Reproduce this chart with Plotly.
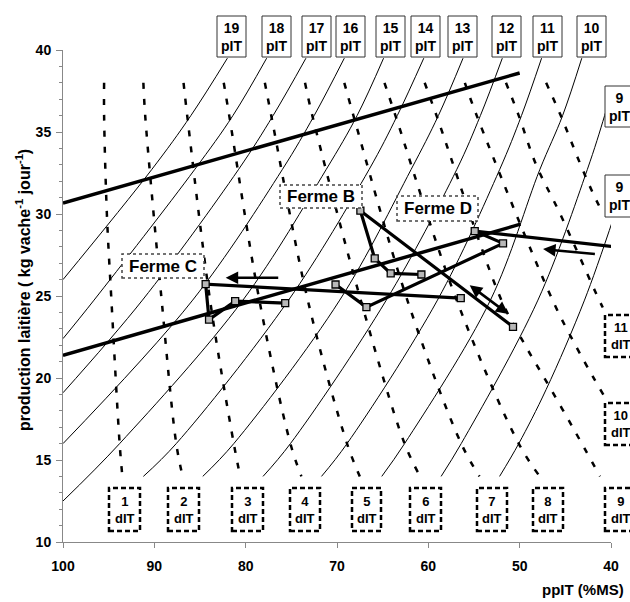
import plotly.graph_objects as go

# ---------------- data ----------------
# pIT isolines (solid thin curves)
pit_labels = ["19", "18", "17", "16", "15", "14", "13", "12", "11", "10", "9", "9"]
pit_x = [
    [82.0, 86.0, 90.3, 100.0],
    [77.7, 81.4, 85.6, 96.6, 100.0],
    [73.4, 77.0, 80.8, 91.3, 100.0],
    [69.2, 72.5, 76.0, 85.8, 100.0],
    [64.9, 67.8, 71.2, 80.3, 93.8, 100.0],
    [60.5, 63.4, 66.5, 75.3, 87.6, 91.2],
    [56.2, 58.9, 61.9, 69.7, 81.3, 84.7],
    [51.9, 54.3, 56.9, 64.6, 75.1, 78.1],
    [47.6, 49.8, 52.2, 59.0, 68.9, 71.7],
    [43.2, 45.3, 47.8, 53.2, 62.6, 65.1],
    [39.6, 40.7, 42.6, 48.0, 56.4, 58.6],
    [39.7, 42.9, 47.1, 50.1, 52.2],
]
pit_y = [
    [39.5, 36.0, 32.7, 26.0],
    [39.5, 36.0, 32.7, 24.75, 22.4],
    [39.5, 36.0, 32.7, 24.75, 19.1],
    [39.5, 36.0, 32.7, 24.75, 16.0],
    [39.5, 36.0, 32.7, 24.75, 16.0, 12.5],
    [39.5, 36.0, 32.7, 24.75, 16.0, 14.0],
    [39.5, 36.0, 32.7, 24.75, 16.0, 14.0],
    [39.5, 36.0, 32.7, 24.75, 16.0, 14.0],
    [39.5, 36.0, 32.7, 24.75, 16.0, 14.0],
    [39.5, 36.0, 32.7, 24.75, 16.0, 14.0],
    [38.2, 36.0, 32.7, 24.75, 16.0, 14.0],
    [29.8, 24.75, 19.3, 16.0, 14.0],
]

# dIT isolines (dashed curves)
dit_labels = ["1", "2", "3", "4", "5", "6", "7", "8", "9", "10", "11"]
dit_x = [
    [95.5, 95.5, 95.2, 94.7, 93.8, 93.5],
    [91.2, 91.0, 89.2, 87.6, 86.9],
    [86.8, 86.4, 83.9, 81.3, 80.6],
    [82.4, 81.8, 78.5, 75.1, 73.9],
    [77.9, 77.2, 73.2, 68.9, 67.5],
    [73.5, 72.7, 67.4, 62.6, 60.9],
    [69.2, 68.2, 62.3, 56.4, 54.4],
    [64.8, 63.6, 56.9, 50.1, 47.8],
    [60.4, 59.1, 52.0, 49.3, 47.4, 44.2, 41.2],
    [56.0, 54.7, 46.4, 43.8, 42.0, 40.7],
    [51.5, 50.1, 48.2, 45.6, 41.3, 40.9],
    [47.1, 45.5, 43.4, 42.0, 40.9],
]
dit_y = [
    [38.0, 36.0, 30.05, 24.75, 16.0, 14.0],
    [38.0, 36.0, 24.75, 16.0, 14.0],
    [38.0, 36.0, 24.75, 16.0, 14.0],
    [38.0, 36.0, 24.75, 16.0, 14.0],
    [38.0, 36.0, 24.75, 16.0, 14.0],
    [38.0, 36.0, 24.75, 16.0, 14.0],
    [38.0, 36.0, 24.75, 16.0, 14.0],
    [38.0, 36.0, 24.75, 16.0, 14.0],
    [38.0, 36.0, 24.75, 21.9, 20.1, 17.0, 14.0],
    [38.0, 36.0, 24.75, 21.9, 20.1, 18.85],
    [38.0, 36.0, 33.0, 30.05, 24.75, 24.3],
    [38.0, 36.0, 33.1, 31.3, 30.05],
]

# thick reference lines
upper_x = [100.0, 50.0]
upper_y = [30.67, 38.6]
lower_x = [100.0, 49.9]
lower_y = [21.39, 29.38]

# farms
fermeB_x = [60.76, 64.12, 65.87, 67.44, 50.73]
fermeB_y = [26.31, 26.38, 27.29, 30.20, 23.12]
fermeC_x = [75.67, 81.15, 84.01, 84.38, 56.45]
fermeC_y = [24.56, 24.69, 23.56, 25.72, 24.87]
fermeD_x = [70.16, 66.78, 51.82, 54.92, 39.6]
fermeD_y = [25.70, 24.32, 28.21, 28.96, 28.0]

# arrows (tail -> head)
arrows = [
    dict(tail=(76.27, 26.11), head=(82.19, 26.11), both=False),
    dict(tail=(41.60, 27.55), head=(47.44, 27.86), both=False),
    dict(tail=(51.07, 23.83), head=(55.47, 25.66), both=True),
]

# ---------------- layout geometry ----------------
W, H = 630, 602
ML, MR, MT, MB = 63, 19, 50, 60
PW = W - ML - MR
PH = H - MT - MB


def pxx(x):
    return (x - ML) / PW


def pxy(y):
    return (H - MB - y) / PH


FONT = "Arial, 'Liberation Sans', Helvetica, sans-serif"

fig = go.Figure()

for xs, ys in zip(pit_x, pit_y):
    fig.add_trace(go.Scatter(x=xs, y=ys, mode="lines",
                             line=dict(color="black", width=1, shape="spline"),
                             hoverinfo="skip", showlegend=False))

for xs, ys in zip(dit_x, dit_y):
    fig.add_trace(go.Scatter(x=xs, y=ys, mode="lines",
                             line=dict(color="black", width=2.5, dash="6px,10px", shape="spline"),
                             hoverinfo="skip", showlegend=False))

for xs, ys in [(upper_x, upper_y), (lower_x, lower_y)]:
    fig.add_trace(go.Scatter(x=xs, y=ys, mode="lines",
                             line=dict(color="black", width=3.5),
                             hoverinfo="skip", showlegend=False))

for xs, ys, nm in [(fermeB_x, fermeB_y, 5), (fermeC_x, fermeC_y, 5), (fermeD_x, fermeD_y, 4)]:
    fig.add_trace(go.Scatter(x=xs, y=ys, mode="lines",
                             line=dict(color="black", width=3.2),
                             hoverinfo="skip", showlegend=False))
    fig.add_trace(go.Scatter(x=xs[:nm], y=ys[:nm], mode="markers",
                             marker=dict(symbol="square", size=7, color="#b8b8b8",
                                         line=dict(color="black", width=1.3)),
                             hoverinfo="skip", showlegend=False))

annotations = []
shapes = []

for a in arrows:
    annotations.append(dict(x=a["head"][0], y=a["head"][1], ax=a["tail"][0], ay=a["tail"][1],
                            xref="x", yref="y", axref="x", ayref="y", text="",
                            showarrow=True, arrowhead=2, arrowsize=1, arrowwidth=2.5,
                            arrowcolor="black", arrowside="end+start" if a["both"] else "end"))

# label boxes, pixel geometry
pit_boxes = [(217, 246), (262, 291), (302, 331), (336, 365), (376, 405),
             (411, 440), (448, 477), (492, 521), (533, 562), (577, 606)]
for (x0, x1), lab in zip(pit_boxes, pit_labels[:10]):
    shapes.append(dict(type="rect", xref="paper", yref="paper", x0=pxx(x0), x1=pxx(x1),
                       y0=pxy(57), y1=pxy(16), line=dict(color="#333", width=1),
                       fillcolor="white", layer="above"))
    annotations.append(dict(x=pxx((x0 + x1) / 2), y=pxy(37), xref="paper", yref="paper",
                            text=f"{lab}<br>pIT", showarrow=False, xanchor="center", yanchor="middle",
                            font=dict(family=FONT, size=14, color="black", weight="bold")))
for (y0, y1), lab in zip([(86, 127), (175, 217)], pit_labels[10:]):
    shapes.append(dict(type="rect", xref="paper", yref="paper", x0=pxx(605), x1=pxx(634),
                       y0=pxy(y1), y1=pxy(y0), line=dict(color="#333", width=1),
                       fillcolor="white", layer="above"))
    annotations.append(dict(x=pxx(619.5), y=pxy((y0 + y1) / 2), xref="paper", yref="paper",
                            text=f"{lab}<br>pIT", showarrow=False, xanchor="center", yanchor="middle",
                            font=dict(family=FONT, size=14, color="black", weight="bold")))

dit_boxes = [(109, 140, 488, 531), (168, 199, 488, 531), (232, 263, 488, 531),
             (290, 320, 488, 531), (352, 381, 488, 531), (410, 441, 488, 531),
             (477, 507, 488, 531), (533, 563, 488, 531), (605, 636, 488, 531),
             (605, 636, 403, 445), (605, 636, 315, 357)]
for (x0, x1, y0, y1), lab in zip(dit_boxes, dit_labels):
    shapes.append(dict(type="rect", xref="paper", yref="paper", x0=pxx(x0), x1=pxx(x1),
                       y0=pxy(y1), y1=pxy(y0), line=dict(color="black", width=2.5, dash="5px,3px"),
                       fillcolor="white", layer="above"))
    annotations.append(dict(x=pxx((x0 + x1) / 2), y=pxy((y0 + y1) / 2), xref="paper", yref="paper",
                            text=f"{lab}<br>dIT", showarrow=False, xanchor="center", yanchor="middle",
                            font=dict(family=FONT, size=13, color="black", weight="bold")))

ferme_boxes = [("Ferme B", 280, 362, 185, 208), ("Ferme D", 397, 478, 196, 221),
               ("Ferme C", 122, 204, 254, 278)]
for lab, x0, x1, y0, y1 in ferme_boxes:
    shapes.append(dict(type="rect", xref="paper", yref="paper", x0=pxx(x0), x1=pxx(x1),
                       y0=pxy(y1), y1=pxy(y0), line=dict(color="#444", width=1.5, dash="dot"),
                       fillcolor="white", layer="above"))
    annotations.append(dict(x=pxx((x0 + x1) / 2), y=pxy((y0 + y1) / 2), xref="paper", yref="paper",
                            text=lab, showarrow=False, xanchor="center", yanchor="middle",
                            font=dict(family=FONT, size=17, color="black", weight="bold")))

# axis titles
annotations.append(dict(x=pxx(626), y=pxy(589), xref="paper", yref="paper", text="ppIT (%MS)",
                        showarrow=False, xanchor="right", yanchor="middle",
                        font=dict(family=FONT, size=15, color="black", weight="bold")))
annotations.append(dict(x=pxx(23), y=pxy(290), xref="paper", yref="paper",
                        text="production laitière ( kg vache<sup>-1</sup> jour<sup>-1</sup>)",
                        showarrow=False, textangle=-90, xanchor="center", yanchor="middle",
                        font=dict(family=FONT, size=16, color="black", weight="bold")))

fig.update_layout(
    width=W, height=H,
    margin=dict(l=ML, r=MR, t=MT, b=MB, pad=0),
    paper_bgcolor="white", plot_bgcolor="white",
    showlegend=False,
    font=dict(family=FONT, color="black"),
    xaxis=dict(range=[100, 40], dtick=10, tick0=40, showgrid=False, zeroline=False,
               showline=True, linecolor="#888", linewidth=1, ticks="outside",
               ticklen=5, tickcolor="#888", ticklabelstandoff=6,
               tickfont=dict(family=FONT, size=14, color="black", weight="bold")),
    yaxis=dict(range=[10, 40], dtick=5, tick0=10, showgrid=False, zeroline=False,
               showline=True, linecolor="#888", linewidth=1, ticks="outside",
               ticklen=6, tickcolor="#888", ticklabelstandoff=2,
               minor=dict(dtick=1, ticks="outside", ticklen=3, tickcolor="#888"),
               tickfont=dict(family=FONT, size=14, color="black", weight="bold")),
    shapes=shapes,
    annotations=annotations,
)

fig.write_html("out.html", config={"displayModeBar": False},
               post_script="document.body.style.margin='0';document.body.style.padding='0';")
